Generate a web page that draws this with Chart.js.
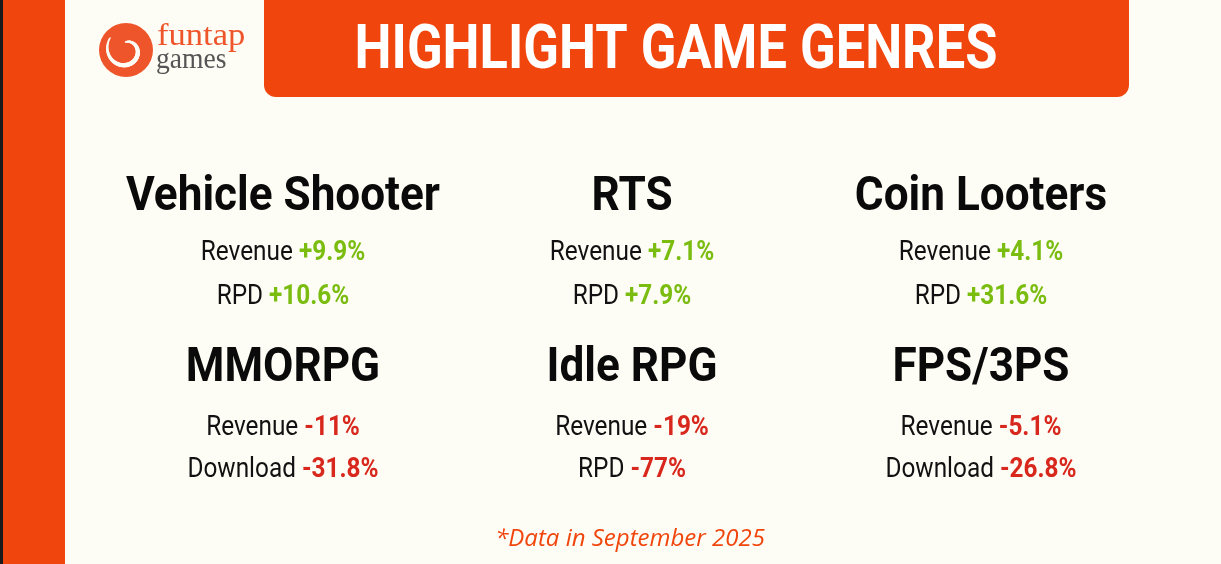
<!DOCTYPE html>
<html>
<head>
<meta charset="utf-8">
<script src="https://cdn.jsdelivr.net/npm/chart.js@4.4.1/dist/chart.umd.min.js"></script>
<style>
  html, body { margin: 0; padding: 0; background: #fefdf5; }
  #wrap { width: 1221px; height: 564px; }
</style>
</head>
<body>
<div id="wrap"><canvas id="genresChart" width="1221" height="564"></canvas></div>
<script>
// Dados do painel
const genres = ['Vehicle Shooter', 'RTS', 'Coin Looters', 'MMORPG', 'Idle RPG', 'FPS/3PS'];
const gridCols = [0, 1, 2, 0, 1, 2];
const gridRows = [0, 0, 0, 1, 1, 1];
const metric1Labels = ['Revenue', 'Revenue', 'Revenue', 'Revenue', 'Revenue', 'Revenue'];
const metric1Values = [9.9, 7.1, 4.1, -11, -19, -5.1];
const metric2Labels = ['RPD', 'RPD', 'RPD', 'Download', 'RPD', 'Download'];
const metric2Values = [10.6, 7.9, 31.6, -31.8, -77, -26.8];
const headerTitle = 'HIGHLIGHT GAME GENRES';
const footNote = '*Data in September 2025';

const ORANGE = '#f0450c';
const GREEN = '#7abd10';
const RED = '#d8271d';
const FONT = 'Roboto, "DejaVu Sans", sans-serif';

function fmtPct(v) {
    return (v > 0 ? '+' : '-') + Math.abs(v) + '%';
}

// texto com compressao horizontal (imita fonte condensada)
function squeezeText(ctx, text, x, y, sx) {
    ctx.save();
    ctx.translate(x, y);
    ctx.scale(sx, 1);
    ctx.fillText(text, 0, 0);
    ctx.restore();
}

// desenha "Label +x%" centralizado
function metricLine(ctx, cx, cy, label, value) {
    const sx = 0.87;
    const labelFont = '28px ' + FONT;
    const valueFont = 'bold 28px ' + FONT;
    const valText = fmtPct(value);
    ctx.font = labelFont;
    const w1 = ctx.measureText(label + ' ').width * sx;
    ctx.font = valueFont;
    const w2 = ctx.measureText(valText).width * sx;
    const x0 = cx - (w1 + w2) / 2;
    ctx.textAlign = 'left';
    ctx.textBaseline = 'middle';
    ctx.font = labelFont;
    ctx.fillStyle = '#111';
    squeezeText(ctx, label + ' ', x0, cy, sx);
    ctx.font = valueFont;
    ctx.fillStyle = value > 0 ? GREEN : RED;
    squeezeText(ctx, valText, x0 + w1, cy, sx);
}

const backdrop = {
    id: 'backdrop',
    beforeDraw(chart) {
        const ctx = chart.ctx;
        ctx.save();
        ctx.fillStyle = '#fefdf5';
        ctx.fillRect(0, 0, chart.width, chart.height);
        ctx.fillStyle = '#1a1a1a';
        ctx.fillRect(0, 0, 3, chart.height);
        ctx.fillStyle = ORANGE;
        ctx.fillRect(3, 0, 62, chart.height);

        // faixa do titulo
        ctx.beginPath();
        ctx.roundRect(264, -20, 865, 117, 12);
        ctx.fill();
        ctx.fillStyle = '#fff';
        ctx.font = 'bold 62px ' + FONT;
        ctx.textAlign = 'center';
        ctx.textBaseline = 'middle';
        squeezeText(ctx, headerTitle, 676, 52, 0.845);

        // logo
        ctx.fillStyle = '#ef552a';
        ctx.beginPath();
        ctx.arc(126, 50, 27, 0, Math.PI * 2);
        ctx.fill();
        ctx.strokeStyle = '#fefdf5';
        ctx.lineCap = 'round';
        for (let i = 0; i < 60; i++) {
            const a1 = -2.5 - i * 0.09, a2 = a1 - 0.09;
            const r1 = 20 - i * 0.2, r2 = r1 - 0.2;
            ctx.lineWidth = 1.5 + 3 * Math.sin(Math.PI * i / 60);
            ctx.beginPath();
            ctx.moveTo(126 + r1 * Math.cos(a1), 50 + r1 * Math.sin(a1));
            ctx.lineTo(126 + r2 * Math.cos(a2), 50 + r2 * Math.sin(a2));
            ctx.stroke();
        }
        ctx.textAlign = 'left';
        ctx.textBaseline = 'alphabetic';
        ctx.font = '32px "Liberation Serif", serif';
        ctx.fillStyle = '#ef552a';
        squeezeText(ctx, 'funtap', 157, 45, 1.08);
        ctx.font = '30px "Liberation Serif", serif';
        ctx.fillStyle = '#555';
        squeezeText(ctx, 'games', 156, 68, 0.92);

        // nota
        ctx.font = 'italic 24px "Open Sans", sans-serif';
        ctx.fillStyle = ORANGE;
        ctx.textAlign = 'center';
        ctx.textBaseline = 'middle';
        ctx.fillText(footNote, 630, 539);
        ctx.restore();
    }
};

const genreText = {
    id: 'genreText',
    afterDatasetsDraw(chart) {
        const ctx = chart.ctx;
        const meta = chart.getDatasetMeta(0);
        ctx.save();
        meta.data.forEach((pt, i) => {
            ctx.font = 'bold 49px ' + FONT;
            ctx.fillStyle = '#0a0a0a';
            ctx.textAlign = 'center';
            ctx.textBaseline = 'middle';
            squeezeText(ctx, genres[i], pt.x, pt.y + 4, 0.9);
            const off = gridRows[i] === 0 ? [59, 103] : [63, 105];
            metricLine(ctx, pt.x, pt.y + off[0], metric1Labels[i], metric1Values[i]);
            metricLine(ctx, pt.x, pt.y + off[1], metric2Labels[i], metric2Values[i]);
        });
        ctx.restore();
    }
};

const ctx = document.getElementById('genresChart').getContext('2d');
new Chart(ctx, {
    type: 'scatter',
    data: {
        datasets: [{
            data: genres.map((g, i) => ({ x: gridCols[i], y: gridRows[i] })),
            pointRadius: 0
        }]
    },
    options: {
        responsive: false,
        animation: false,
        devicePixelRatio: 1,
        layout: { padding: { left: 283, right: 240, top: 194, bottom: 199 } },
        plugins: { legend: { display: false }, tooltip: { enabled: false } },
        scales: {
            x: { type: 'linear', min: 0, max: 2, display: false },
            y: { type: 'linear', min: 0, max: 1, reverse: true, display: false }
        }
    },
    plugins: [backdrop, genreText]
});
</script>
</body>
</html>
